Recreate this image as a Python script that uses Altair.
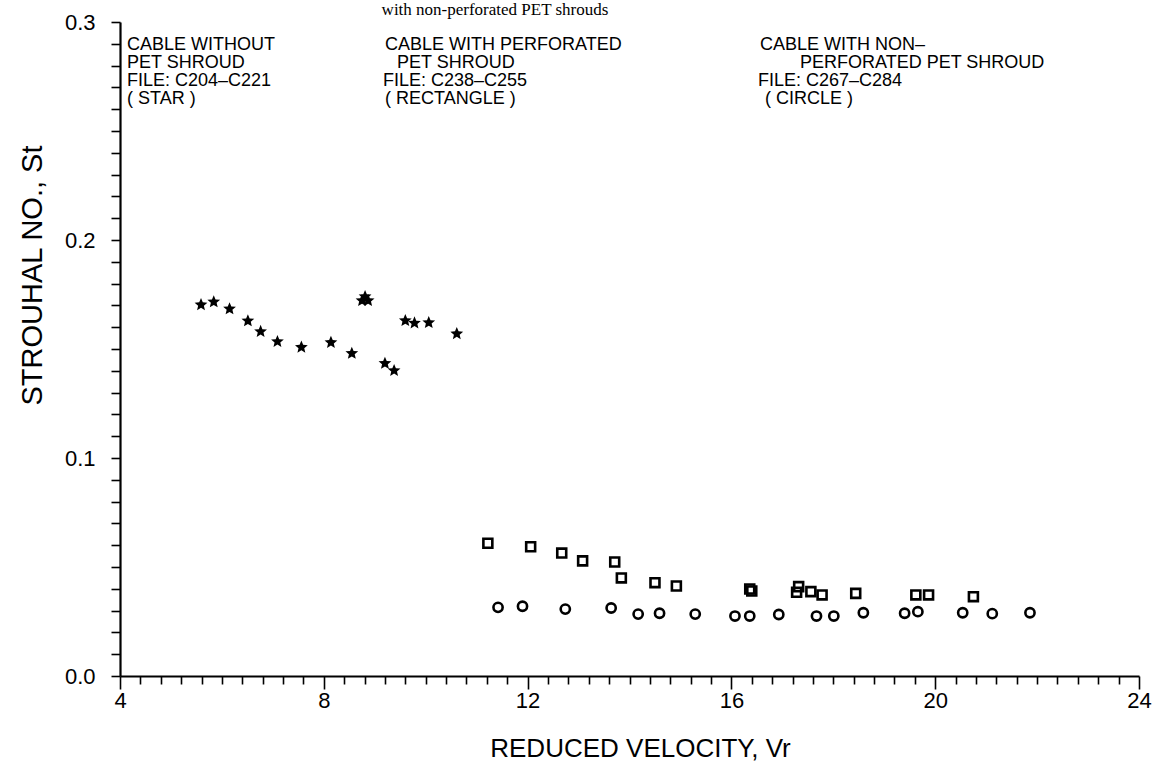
import math
import altair as alt
import pandas as pd

# ---- data ----
star_x = [5.59, 5.84, 6.15, 6.51, 6.76, 7.09, 7.56, 8.14, 8.55, 8.75, 8.81, 8.87, 9.20, 9.38, 9.60, 9.78, 10.06, 10.61]
star_y = [0.1706, 0.1719, 0.1687, 0.1632, 0.1583, 0.1537, 0.1511, 0.1533, 0.1483, 0.1725, 0.1743, 0.1725, 0.1437, 0.1404, 0.1633, 0.1622, 0.1624, 0.1573]

rect_x = [11.22, 12.06, 12.67, 13.08, 13.71, 13.84, 14.50, 14.92, 16.36, 16.40, 17.28, 17.32, 17.56, 17.78, 18.44, 19.62, 19.87, 20.75]
rect_y = [0.0609, 0.0593, 0.0564, 0.0528, 0.0523, 0.0450, 0.0428, 0.0413, 0.0399, 0.0390, 0.0384, 0.0410, 0.0387, 0.0372, 0.0379, 0.0372, 0.0372, 0.0364]

circ_x = [11.42, 11.90, 12.74, 13.64, 14.17, 14.59, 15.29, 16.07, 16.36, 16.93, 17.67, 18.01, 18.59, 19.40, 19.66, 20.54, 21.12, 21.86]
circ_y = [0.0315, 0.0320, 0.0307, 0.0312, 0.0284, 0.0288, 0.0284, 0.0275, 0.0275, 0.0282, 0.0275, 0.0275, 0.0290, 0.0288, 0.0295, 0.0290, 0.0286, 0.0290]

x_title = "REDUCED VELOCITY, Vr"
y_title = "STROUHAL NO., St"
top_note = "with non-perforated PET shrouds"

block1 = ["CABLE WITHOUT", "PET SHROUD", "FILE: C204\u2013C221", "( STAR )"]
block2 = ["CABLE WITH PERFORATED", "PET SHROUD", "FILE: C238\u2013C255", "( RECTANGLE )"]
block3 = ["CABLE WITH NON\u2013", "PERFORATED PET SHROUD", "FILE: C267\u2013C284", "( CIRCLE )"]

# ---- layout ----
W, H = 1019, 654
LEFT, TOP = 120, 22
FONT = "Liberation Sans"

x_ticks = [round(4 + 0.4 * i, 1) for i in range(51)]
y_ticks = [round(0.01 * i, 2) for i in range(31)]

# five-point star path
pts = []
for k in range(10):
    r = 1.0 if k % 2 == 0 else 0.45
    a = -math.pi / 2 + k * math.pi / 5
    pts.append((r * math.cos(a), r * math.sin(a) + 0.1))
star_path = "M" + " L".join(f"{px:.3f},{py:.3f}" for px, py in pts) + " Z"

x_scale = alt.Scale(domain=[4, 24], nice=False, zero=False)
y_scale = alt.Scale(domain=[0, 0.3], nice=False, zero=False)

x_axis = alt.Axis(
    values=x_ticks,
    labelExpr="datum.value % 4 === 0 ? format(datum.value, 'd') : ''",
    tickSize={"condition": {"test": "datum.value % 4 === 0", "value": 13}, "value": 8},
    tickColor="black", tickWidth=1.6, domainColor="black", domainWidth=2.2,
    labelFont=FONT, labelFontSize=22, labelColor="black", labelPadding=1,
    labelOverlap=False, labelBound=False, labelFlush=False,
    title=x_title, titleFont=FONT, titleFontSize=26, titleFontWeight="normal",
    titleColor="black", titleX=520, titleY=72, titleBaseline="middle", titleAnchor="middle",
    grid=False,
)
y_axis = alt.Axis(
    values=y_ticks,
    labelExpr="abs(datum.value * 10 - round(datum.value * 10)) < 1e-6 ? format(datum.value, '.1f') : ''",
    tickSize=9, tickColor="black", tickWidth=1.6, domainColor="black", domainWidth=2.2,
    labelFont=FONT, labelFontSize=22, labelColor="black", labelPadding=16,
    labelOverlap=False, labelBound=False, labelFlush=False,
    title=y_title, titleFont=FONT, titleFontSize=29, titleFontWeight="normal",
    titleColor="black", titleX=-88, titleY=253, titleBaseline="middle", titleAnchor="middle",
    grid=False,
)

df_star = pd.DataFrame({"x": star_x, "y": star_y})
df_rect = pd.DataFrame({"x": rect_x, "y": rect_y})
df_circ = pd.DataFrame({"x": circ_x, "y": circ_y})

base_enc = dict(
    x=alt.X("x:Q", scale=x_scale, axis=x_axis),
    y=alt.Y("y:Q", scale=y_scale, axis=y_axis),
)

stars = alt.Chart(df_star).mark_point(
    shape=star_path, filled=True, color="black", size=180, opacity=1
).encode(**base_enc)
rects = alt.Chart(df_rect).mark_point(
    shape="square", filled=False, color="black", size=80, strokeWidth=2.6, opacity=1
).encode(**base_enc)
circs = alt.Chart(df_circ).mark_point(
    shape="circle", filled=False, color="black", size=85, strokeWidth=2.6, opacity=1
).encode(**base_enc)

layers = [stars, rects, circs]

def txt(s, px, py, font=FONT, size=18, align="left"):
    return alt.Chart(pd.DataFrame({"t": [s]})).mark_text(
        font=font, fontSize=size, color="black", align=align, baseline="middle"
    ).encode(text="t:N", x=alt.value(px - LEFT), y=alt.value(py - TOP))

line_y = [45, 63, 81, 99]
for s, xx, yy in zip(block1, [127, 127, 127, 127], line_y):
    layers.append(txt(s, xx, yy))
for s, xx, yy in zip(block2, [385, 397, 383, 385], line_y):
    layers.append(txt(s, xx, yy))
for s, xx, yy in zip(block3, [760, 800, 758, 765], line_y):
    layers.append(txt(s, xx, yy))
layers.append(txt(top_note, 495, 10, font="Liberation Serif", size=17, align="center"))

chart = alt.layer(*layers).properties(
    width=W, height=H,
    autosize=alt.AutoSizeParams(type="none"),
    padding={"left": LEFT, "top": TOP, "right": 1157 - LEFT - W, "bottom": 777 - TOP - H},
    background="white",
).configure_view(stroke=None)

chart.save("out.html", embed_options={"renderer": "svg", "actions": False})
